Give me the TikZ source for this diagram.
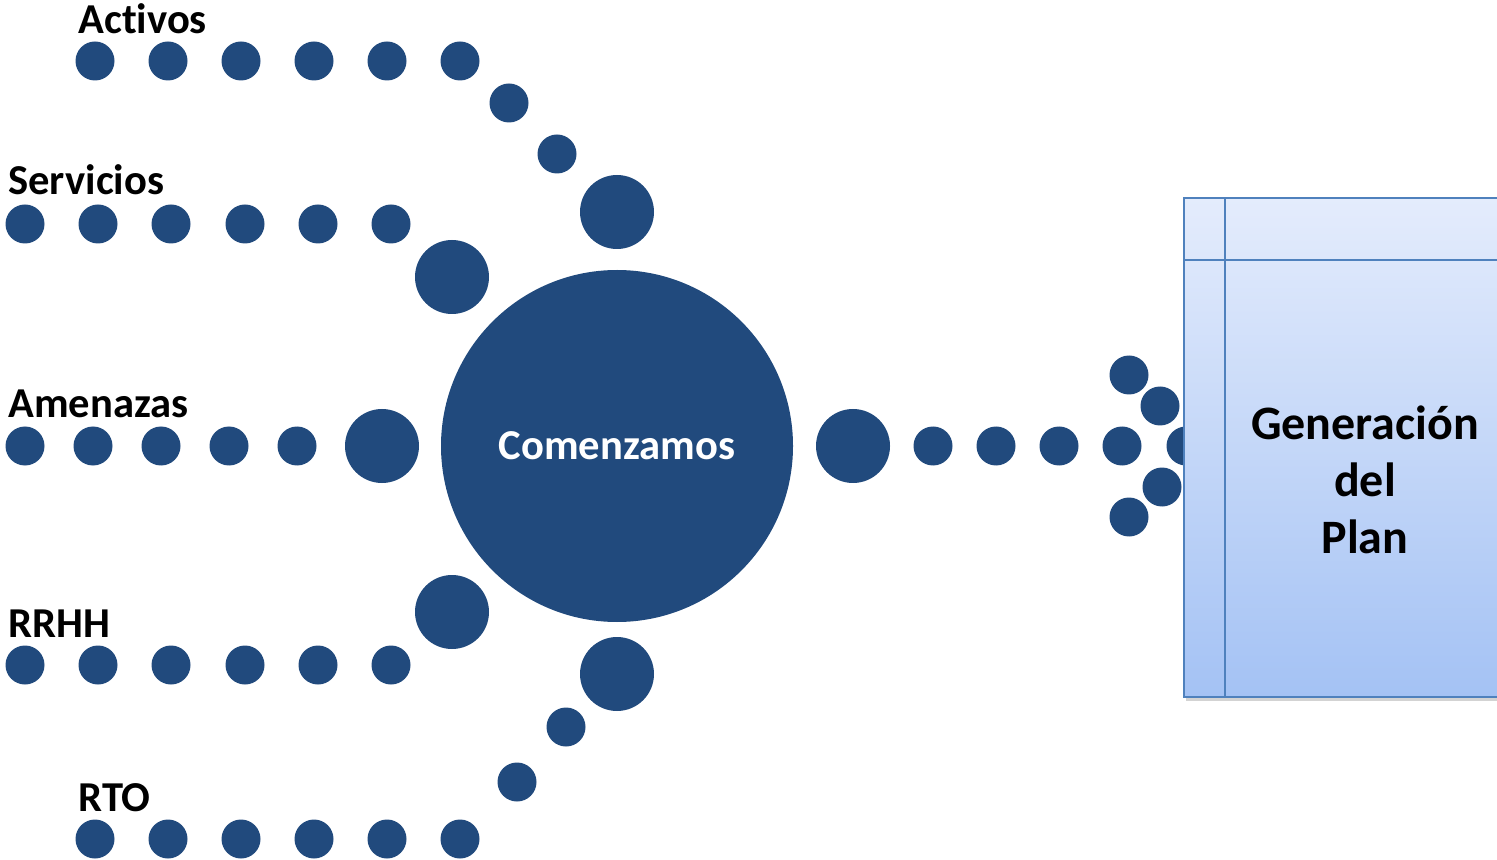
\documentclass[tikz,border=0pt]{standalone}
\usepackage{fontspec}
\setmainfont[Ligatures=NoCommon]{Carlito}
\usetikzlibrary{shadows}
\definecolor{dotblue}{RGB}{33,74,125}
\definecolor{planline}{RGB}{79,129,189}
\definecolor{plantop}{RGB}{228,236,252}
\definecolor{planbot}{RGB}{164,194,244}

\begin{document}
\begin{tikzpicture}[x=0.5pt,y=-0.5pt,
	dot/.style={circle,fill=dotblue,inner sep=0pt,minimum size=19.5pt},
	bigdot/.style={dot,minimum size=37pt},
	lbl/.style={anchor=base west,inner sep=0pt,font=\bfseries\fontsize{21.3}{25}\selectfont}]
	\useasboundingbox (0,0) rectangle (1497,860);
	\clip (0,0) rectangle (1497,860);
	
	% filas de puntos
	\begin{scope}[every node/.style={dot}]
		\foreach \x [count=\i] in {95,168,241,314,387,460} \node (act\i) at (\x,61) {};
		\node (act7) at (509,103) {};
		\node (act8) at (557,154) {};
		\node[bigdot] (act9) at (617,212) {};
		
		\foreach \x [count=\i] in {25,98,171,245,318,391} \node (ser\i) at (\x,224) {};
		\node[bigdot] (ser7) at (452,277) {};
		
		\foreach \x [count=\i] in {25,93,161,229,297} \node (ame\i) at (\x,446) {};
		\node[bigdot] (ame6) at (382,446) {};
		
		\foreach \x [count=\i] in {25,98,171,245,318,391} \node (rrh\i) at (\x,665) {};
		\node[bigdot] (rrh7) at (452,612) {};
		
		\foreach \x [count=\i] in {95,168,241,314,387,460} \node (rto\i) at (\x,839) {};
		\node (rto7) at (517,782) {};
		\node (rto8) at (566,727) {};
		\node[bigdot] (rto9) at (617,674) {};
		
		\node[bigdot] (sal0) at (853,446) {};
		\foreach \x [count=\i] in {933,996,1059,1122,1186} \node (sal\i) at (\x,446) {};
		\node (fan1) at (1129,375) {};
		\node (fan2) at (1160,406) {};
		\node (fan3) at (1162,487) {};
		\node (fan4) at (1129,517) {};
	\end{scope}
	
	\node[circle,fill=dotblue,inner sep=0pt,minimum size=176pt,text=white,
		font=\bfseries\fontsize{21.3}{25}\selectfont] (com) at (617,446) {Comenzamos};
	
	\node[lbl] (lact) at (78,34) {Activos};
	\node[lbl] (lser) at (8,195) {Servicios};
	\node[lbl] (lame) at (8,418) {Amenazas};
	\node[lbl] (lrrh) at (8,637) {RRHH};
	\node[lbl] (lrto) at (78,811) {RTO};
	
	% caja del plan
	\draw[draw=planline,line width=0.8pt,top color=plantop,bottom color=planbot,
		drop shadow={shadow xshift=1pt,shadow yshift=-2pt,opacity=.35}]
		(1184,198) rectangle (1520,697);
	\draw[planline,line width=0.8pt] (1225,198) -- (1225,697);
	\draw[planline,line width=0.8pt] (1184,260) -- (1520,260);
	\node[align=center,font=\bfseries\fontsize{24}{28.5}\selectfont] (gen) at (1365,480) {Generación\\del\\Plan};
\end{tikzpicture}
\end{document}
